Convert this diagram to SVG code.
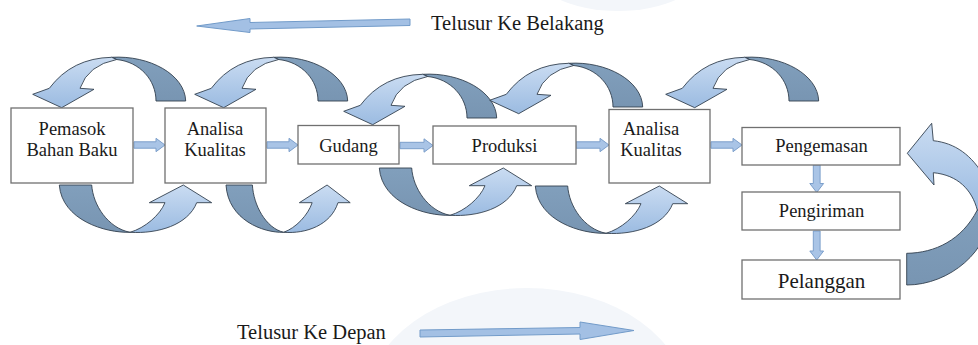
<svg xmlns="http://www.w3.org/2000/svg" xmlns:xlink="http://www.w3.org/1999/xlink" width="978" height="345" viewBox="0 0 978 345">
<defs>
<linearGradient id="gl" x1="0" y1="0" x2="0" y2="1">
<stop offset="0" stop-color="#cadcf2"/>
<stop offset="1" stop-color="#9bbbe1"/>
</linearGradient>
<linearGradient id="gd" x1="0" y1="0" x2="0" y2="1">
<stop offset="0" stop-color="#819fbc"/>
<stop offset="1" stop-color="#7895b2"/>
</linearGradient>
<style>
.box{fill:#ffffff;stroke:#707070;stroke-width:1.3}
.t{font-family:'Liberation Serif','Times New Roman','DejaVu Serif',serif;font-size:18.5px;fill:#1a1a1a;text-anchor:middle}
.lbl{font-family:'Liberation Serif','Times New Roman','DejaVu Serif',serif;font-size:20.5px;fill:#1a1a1a}
.dk{fill:url(#gd);stroke:#33414f;stroke-width:0.9;stroke-linejoin:round}
.lt{fill:url(#gl);stroke:#33414f;stroke-width:0.9;stroke-linejoin:round}
.ba{fill:#a9c4e6;stroke:#7c9fcb;stroke-width:1}
.la{fill:#a3c0e4;stroke:#729bc9;stroke-width:1}
.wm{fill:#f3f6fa}
</style>
<g id="archTop">
<path class="dk" d="M111.7,57.3 C150,55 185,75 185.7,101 L156,101 C156,80 140,62 116.7,59.5 Z"/>
<path class="lt" d="M111.7,57.3 Q72,58 49.3,88.3 L32.7,94.3 L61.7,107.7 L94,89.3 L80,88.3 Q88,65 116.7,59.5 Z"/>
</g>
<g id="archBot">
<path class="dk" d="M59.3,185 L91.7,185 C93,205 108,228 130,232.3 C105,233 62,220 59.3,185 Z"/>
<path class="lt" d="M130,232.3 C158,234 188,225 196.7,202.7 L211.7,202.7 L183.3,185 L149.3,202.7 L165,202.7 C160,215 145,228 130,232.3 Z"/>
</g>
</defs>

<g id="watermark">
<ellipse class="wm" cx="618" cy="-32" rx="86" ry="43"/>
<ellipse class="wm" cx="527" cy="402" rx="160" ry="114"/>
</g>

<g id="direction-arrows">
<path class="la" d="M410,19 L410,25.5 L250,29 L250,32.5 L196.7,26 L250,18.5 L250,22.5 Z"/>
<text class="lbl" font-family="Liberation Serif, DejaVu Serif, serif" x="431" y="30">Telusur Ke Belakang</text>
<path class="la" d="M420,330 L420,337 L580,334 L580,339.5 L634,330.5 L580,322 L580,327.5 Z"/>
<text class="lbl" font-family="Liberation Serif, DejaVu Serif, serif" x="237" y="339">Telusur Ke Depan</text>
</g>

<g id="connectors">
<path class="ba" d="M134,141.8 H156 V138.3 L165,145 L156,151.7 V148.2 H134 Z"/>
<path class="ba" d="M267,141.8 H289 V138.3 L298,145 L289,151.7 V148.2 H267 Z"/>
<path class="ba" d="M400,142.3 H424 V138.8 L433,145.5 L424,152.2 V148.7 H400 Z"/>
<path class="ba" d="M576,141.8 H600 V138.3 L609,145 L600,151.7 V148.2 H576 Z"/>
<path class="ba" d="M711,141.8 H733 V138.3 L742,145 L733,151.7 V148.2 H711 Z"/>
<path class="ba" d="M813.3,165 V183.5 H809.8 L816.7,192.5 L823.6,183.5 H820.1 V165 Z"/>
<path class="ba" d="M813.3,231 V251 H809.8 L816.7,260 L823.6,251 H820.1 V231 Z"/>

<g id="back-arrows">
<use xlink:href="#archTop"/>
<use xlink:href="#archTop" transform="translate(162,0)"/>
<use xlink:href="#archTop" transform="translate(311,17)"/>
<use xlink:href="#archTop" transform="translate(457,6)"/>
<use xlink:href="#archTop" transform="translate(633,0)"/>
</g>
<g id="forward-arrows">
<use xlink:href="#archBot"/>
<g transform="translate(226,0) scale(0.815,1) translate(-59.3,0)">
<path class="dk" vector-effect="non-scaling-stroke" d="M59.3,185 L91.7,185 C93,205 108,228 130,232.3 C105,233 62,220 59.3,185 Z"/>
<path class="lt" vector-effect="non-scaling-stroke" d="M130,232.3 C158,234 188,225 196.7,202.7 L211.7,202.7 L183.3,185 L149.3,202.7 L165,202.7 C160,215 145,228 130,232.3 Z"/>
</g>
<use xlink:href="#archBot" transform="translate(320,-17)"/>
<use xlink:href="#archBot" transform="translate(476,1)"/>
</g>
<g id="return-arrow">
<path class="dk" d="M977.3,210 L990,212 C990,250 950,285 906.7,285 L906.7,253.3 C935,253 962,240 977.3,210 Z"/>
<path class="lt" d="M933.3,140.7 C955,143 972,155 985,178 L988,205 L977.3,210 C972,190 958,175 933.3,172.7 L934,185 L907.3,153.3 L931.7,123.3 Z"/>
</g>
</g>

<g id="node-pemasok">
<rect class="box" x="11" y="108" width="122" height="75"/>
<text class="t" font-family="Liberation Serif, DejaVu Serif, serif" x="72" y="135">Pemasok</text>
<text class="t" font-family="Liberation Serif, DejaVu Serif, serif" x="72" y="156">Bahan Baku</text>
</g>
<g id="node-analisa1">
<rect class="box" x="165" y="108" width="101" height="75"/>
<text class="t" font-family="Liberation Serif, DejaVu Serif, serif" x="215" y="135">Analisa</text>
<text class="t" font-family="Liberation Serif, DejaVu Serif, serif" x="215" y="156">Kualitas</text>
</g>
<g id="node-gudang">
<rect class="box" x="298" y="125.5" width="101" height="38.5"/>
<text class="t" font-family="Liberation Serif, DejaVu Serif, serif" x="348.5" y="152">Gudang</text>
</g>
<g id="node-produksi">
<rect class="box" x="433" y="126" width="143" height="38"/>
<text class="t" font-family="Liberation Serif, DejaVu Serif, serif" x="504.5" y="152">Produksi</text>
</g>
<g id="node-analisa2">
<rect class="box" x="609" y="109.5" width="101" height="73.5"/>
<text class="t" font-family="Liberation Serif, DejaVu Serif, serif" x="651" y="135">Analisa</text>
<text class="t" font-family="Liberation Serif, DejaVu Serif, serif" x="651" y="156">Kualitas</text>
</g>
<g id="node-pengemasan">
<rect class="box" x="742" y="127.5" width="158" height="37.5"/>
<text class="t" font-family="Liberation Serif, DejaVu Serif, serif" x="821.5" y="152">Pengemasan</text>
</g>
<g id="node-pengiriman">
<rect class="box" x="742" y="192" width="158" height="38"/>
<text class="t" font-family="Liberation Serif, DejaVu Serif, serif" x="821.5" y="217">Pengiriman</text>
</g>
<g id="node-pelanggan">
<rect class="box" x="742" y="260" width="158" height="39"/>
<text class="t" font-family="Liberation Serif, DejaVu Serif, serif" x="821.5" y="288" style="font-size:21px">Pelanggan</text>
</g>
</svg>
